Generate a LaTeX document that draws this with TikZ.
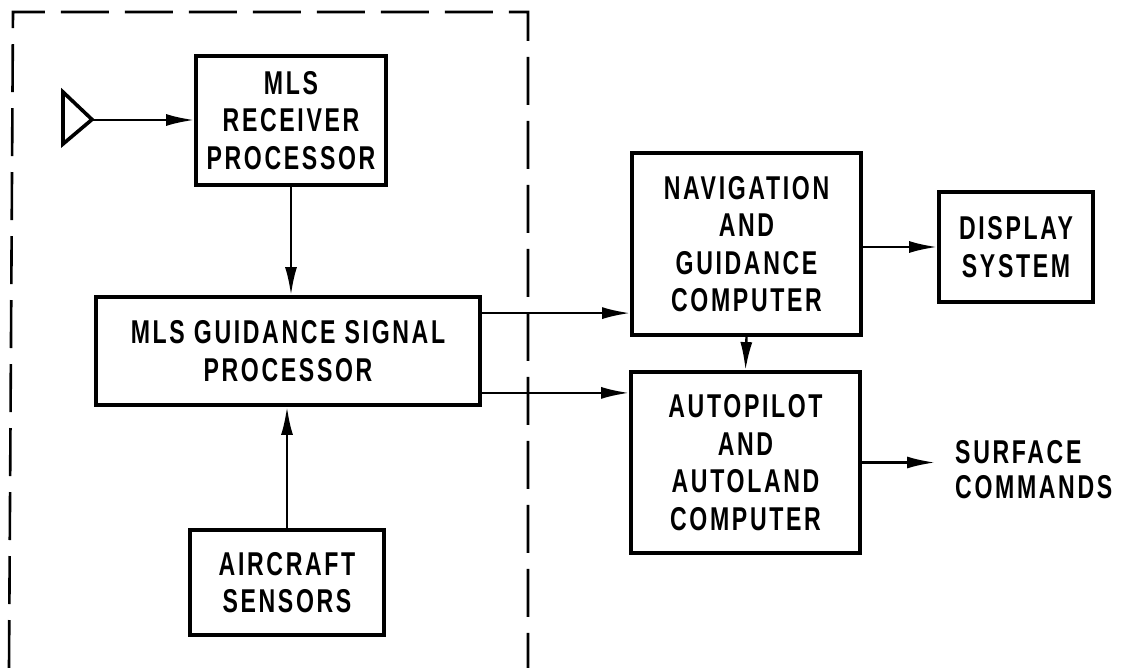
\documentclass[tikz,border=0pt]{standalone}
\usepackage{fontspec}
\setmainfont[FakeStretch=0.70,LetterSpace=8]{Liberation Sans}
\usetikzlibrary{arrows.meta,calc}
\tikzset{
  blk/.style={draw, line width=3.8pt, align=center, inner sep=0pt,
    font=\fontsize{33}{37.5}\selectfont\bfseries},
  arr/.style={line width=2.4pt, -{Latex[length=28pt,width=12pt]}},
  lbl/.style={align=left, inner sep=0pt, font=\fontsize{33}{35}\selectfont\bfseries}
}
\begin{document}
\begin{tikzpicture}[x=1pt,y=-1pt]
\useasboundingbox (0,0) rectangle (1121,668);
% dashed enclosure
\draw[line width=2.6pt, dash pattern=on 48pt off 16pt] (9,668) -- (13,12) -- (528,12) -- (528,668);
% antenna
\draw[line width=3.6pt, line join=miter] (63,92) -- (63,144) -- (92,119.5) -- cycle;
\coordinate (ant) at (92,120);
% blocks
\node[blk, minimum width=190pt, minimum height=129pt] (rec) at (291,120.5) {MLS\\RECEIVER\\PROCESSOR};
\node[blk, minimum width=384pt, minimum height=108pt] (gsp) at (288,351) {MLS GUIDANCE SIGNAL\\PROCESSOR};
\node[blk, minimum width=194pt, minimum height=105pt] (acs) at (287,582.5) {AIRCRAFT\\SENSORS};
\node[blk, minimum width=229pt, minimum height=182pt] (nav) at (746.5,244) {NAVIGATION\\AND\\GUIDANCE\\COMPUTER};
\node[blk, minimum width=154pt, minimum height=110pt] (disp) at (1016,247) {DISPLAY\\SYSTEM};
\node[blk, minimum width=229pt, minimum height=181pt] (ap) at (745.5,462.5) {AUTOPILOT\\AND\\AUTOLAND\\COMPUTER};
\node[lbl, anchor=west] (surf) at (955,470) {SURFACE\\COMMANDS};
% connectors
\draw[arr] (ant) -- (ant -| rec.west);
\draw[arr] (rec.south) -- (rec.south |- gsp.north);
\draw[arr] (acs.north) -- (acs.north |- gsp.south);
\draw[arr] ([yshift=-18pt]gsp.north east) -- ([yshift=-18pt]gsp.north east -| nav.west);
\draw[arr] ([yshift=14pt]gsp.south east) -- ([yshift=14pt]gsp.south east -| ap.west);
\draw[arr] (nav.south) -- (ap.north);
\draw[arr] (nav.east |- disp.west) -- (disp.west);
\draw[arr, shorten >=20pt] (ap.east) -- (ap.east -| surf.west);
\end{tikzpicture}
\end{document}
